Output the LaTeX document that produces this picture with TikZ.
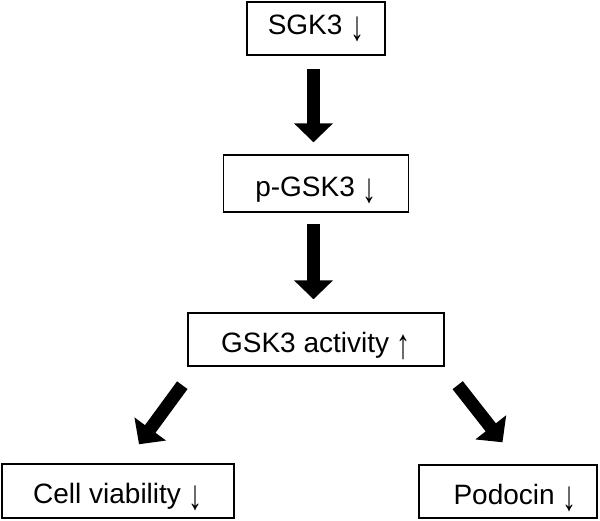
\documentclass[tikz,border=0pt]{standalone}
\usepackage{fontspec}
\setmainfont{Liberation Sans}
\usetikzlibrary{arrows.meta}
\newcommand{\dnarr}{\smash{\raisebox{-0.2em}{\scalebox{1}[1.5]{↓}}}}
\newcommand{\uparr}{\smash{\raisebox{-0.2em}{\scalebox{1}[1.5]{↑}}}}
\tikzstyle{box} = [rectangle, draw=black, line width=1.4pt, text centered, inner sep=0pt, text height=26pt, text depth=0pt, font=\fontsize{28}{32}\selectfont]
\tikzstyle{arrow} = [line width=13pt, -{Triangle[width=38pt,length=19pt]}]

\begin{document}
\begin{tikzpicture}[x=1pt, y=1pt, node distance=155pt]
\useasboundingbox (0,0) rectangle (600,521);
\node (sgk) [box, text height=20pt, text depth=7pt, minimum width=138pt, minimum height=53pt] at (316,492.5) {SGK3 \dnarr};
\node (pgsk) [box, below of=sgk, minimum width=185pt, minimum height=57pt] {p-GSK3 \dnarr};
\node (gsk) [box, below of=pgsk, node distance=156pt, minimum width=256pt, minimum height=53pt] {GSK3 activity \uparr};
\node (cell) [box, below of=gsk, node distance=151.5pt, xshift=-198pt, minimum width=232pt, minimum height=54pt] {Cell viability \dnarr};
\node (podo) [box, below of=gsk, node distance=152pt, xshift=192pt, minimum width=178pt, minimum height=53pt] {\hspace{14pt}Podocin \dnarr};
\draw [arrow] ([xshift=-2.5pt,yshift=-13pt]sgk.south) -- ([xshift=-2.5pt,yshift=12pt]pgsk.north);
\draw [arrow] ([xshift=-2.5pt,yshift=-11pt]pgsk.south) -- ([xshift=-2.5pt,yshift=13pt]gsk.north);
\draw [arrow] ([xshift=-5pt,yshift=-18.5pt]gsk.south west) -- ([xshift=21pt,yshift=19pt]cell.north);
\draw [arrow] ([xshift=13pt,yshift=-18.5pt]gsk.south east) -- ([xshift=-5.5pt,yshift=22pt]podo.north);
\end{tikzpicture}
\end{document}
